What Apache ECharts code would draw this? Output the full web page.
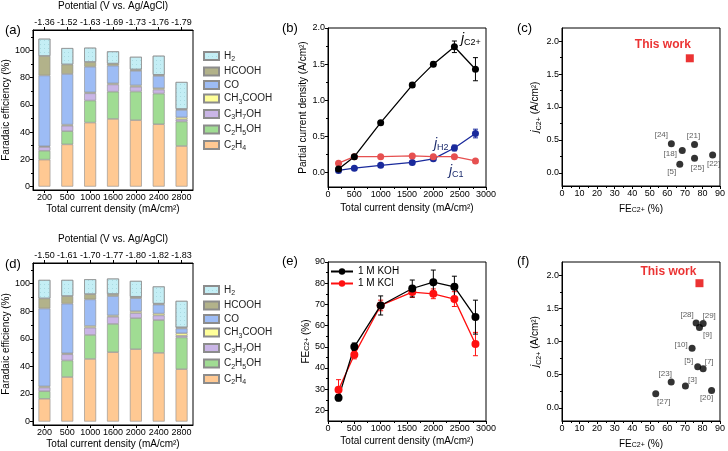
<!DOCTYPE html>
<html><head><meta charset="utf-8">
<script src="https://cdn.jsdelivr.net/npm/echarts@6/dist/echarts.min.js"></script>
<style>html,body{margin:0;padding:0;background:#fff}#c{width:728px;height:451px}</style>
</head><body><div id="c"></div>
<script>
// ---------- data ----------
const currents = ['200','500','1000','1600','2000','2400','2800'];
const currentVals = [200,500,1000,1600,2000,2400,2800];
const potentialA = ['-1.36','-1.52','-1.63','-1.69','-1.73','-1.76','-1.79'];
const potentialD = ['-1.50','-1.61','-1.70','-1.77','-1.80','-1.82','-1.83'];
const products = ['C2H4','C2H5OH','C3H7OH','CH3COOH','CO','HCOOH','H2']; // bottom -> top
const legendOrder = ['H2','HCOOH','CO','CH3COOH','C3H7OH','C2H5OH','C2H4'];

// (a) Faradaic efficiency (%) - 1 M KCl
const feA_C2H4    = [19.8, 31.0, 47.0, 49.7, 48.8, 45.8, 29.8];
const feA_C2H5OH  = [6.5, 9.7, 16.2, 20.0, 21.0, 22.5, 18.0];
const feA_C3H7OH  = [2.8, 4.0, 5.3, 5.3, 3.5, 3.0, 1.5];
const feA_CH3COOH = [0.5, 0.8, 0.7, 0.8, 1.0, 1.0, 1.5];
const feA_CO      = [52.0, 37.2, 18.8, 13.0, 10.7, 9.0, 5.5];
const feA_HCOOH   = [14.3, 7.0, 3.5, 1.5, 1.0, 0.8, 0.7];
const feA_H2      = [12.7, 12.0, 10.5, 9.0, 9.3, 14.0, 19.8];

// (d) Faradaic efficiency (%) - 1 M KOH
const feD_C2H4    = [16.5, 32.3, 45.4, 50.3, 52.5, 49.8, 38.0];
const feD_C2H5OH  = [5.5, 12.0, 17.4, 20.5, 22.5, 23.8, 23.0];
const feD_C3H7OH  = [2.7, 4.5, 5.3, 5.2, 3.7, 3.4, 1.2];
const feD_CH3COOH = [0.8, 0.7, 1.2, 1.0, 1.3, 1.3, 1.8];
const feD_CO      = [56.5, 36.0, 19.3, 14.0, 9.5, 6.5, 3.5];
const feD_HCOOH   = [7.3, 5.5, 3.8, 1.5, 1.0, 0.7, 0.8];
const feD_H2      = [13.4, 11.7, 10.8, 11.2, 11.5, 12.5, 19.2];

// (b) partial current density (A/cm2)
const jC2 = [0.05, 0.22, 0.69, 1.21, 1.50, 1.74, 1.43];
const jC2err = [0.01, 0.02, 0.02, 0.03, 0.03, 0.08, 0.16];
const jC1 = [0.13, 0.22, 0.22, 0.23, 0.22, 0.22, 0.16];
const jC1err = [0.02, 0.02, 0.02, 0.02, 0.02, 0.02, 0.01];
const jH2 = [0.03, 0.06, 0.10, 0.14, 0.19, 0.34, 0.54];
const jH2err = [0.01, 0.01, 0.01, 0.01, 0.02, 0.04, 0.06];

// (e) FE C2+ (%)
const feKOH = [26.0, 50.0, 69.5, 77.5, 80.5, 78.3, 64.0];
const feKOHerr = [1.5, 1.8, 4.5, 4.0, 5.7, 5.0, 8.0];
const feKCl = [29.7, 46.3, 69.5, 75.8, 75.0, 72.5, 51.3];
const feKClerr = [4.8, 2.0, 2.5, 2.5, 2.3, 3.5, 5.5];

// (c) comparison
const refC = ['[24]','[21]','[18]','[25]','[22]','[5]'];
const refC_fe = [62.3, 75.5, 68.5, 75.5, 85.8, 67.1];
const refC_j = [0.44, 0.43, 0.34, 0.22, 0.27, 0.13];
const thisC = [72.8, 1.74];

// (f) comparison
const refF = ['[28]','[29]','[9]','[10]','[5]','[7]','[23]','[3]','[27]','[20]'];
const refF_fe = [76.4, 80.4, 78.3, 74.1, 77.3, 80.4, 62.2, 70.3, 53.4, 85.2];
const refF_j = [1.28, 1.27, 1.21, 0.90, 0.62, 0.59, 0.39, 0.33, 0.21, 0.26];
const thisF = [78.3, 1.88];

// ---------- styles ----------
const F = 'Liberation Sans, Arial, Helvetica, sans-serif';
const colors = {C2H4:'#FFC993', C2H5OH:'#A0DC93', C3H7OH:'#C9B5E6', CH3COOH:'#FFFF99', CO:'#9DBCF5', HCOOH:'#B2B28A', H2:'#C4EEF5'};
const feA = {C2H4:feA_C2H4, C2H5OH:feA_C2H5OH, C3H7OH:feA_C3H7OH, CH3COOH:feA_CH3COOH, CO:feA_CO, HCOOH:feA_HCOOH, H2:feA_H2};
const feD = {C2H4:feD_C2H4, C2H5OH:feD_C2H5OH, C3H7OH:feD_C3H7OH, CH3COOH:feD_CH3COOH, CO:feD_CO, HCOOH:feD_HCOOH, H2:feD_H2};

const labelOffC = {'[24]':[-10,-9], '[21]':[-1,-9], '[18]':[-12,3], '[25]':[3,9], '[22]':[1,9], '[5]':[-8,8]};
const labelOffF = {'[28]':[-9,-8], '[29]':[6,-8], '[9]':[8,7], '[10]':[-11,-3], '[5]':[-9,-6], '[7]':[6,-7], '[23]':[-6,-8], '[3]':[7,-6], '[27]':[8,8], '[20]':[-5,7]};

function chem(s){
  return s.replace(/([^0-9+]+)|([0-9+]+)/g, (m,a,b)=> a ? '{n|'+a+'}' : '{s|'+b+'}');
}
const richBase = {
  n:{fontFamily:F, fontSize:10, lineHeight:14, color:'#000'},
  s:{fontFamily:F, fontSize:7, lineHeight:7, verticalAlign:'bottom', color:'#000'},
  j:{fontFamily:F, fontSize:10, lineHeight:14, fontStyle:'italic', color:'#000'}
};
const lbl = {fontFamily:F, fontSize:9, color:'#000', margin:3};
const nameSt = {fontFamily:F, fontSize:10, color:'#000'};
const axLine = {show:true, onZero:false, lineStyle:{color:'#000', width:1}};
const plain = v => String(v);

function yMajor(g, min, max, vals, name, gap, fmt){
  return {type:'value', gridIndex:g, min, max, position:'left',
    axisLine:axLine,
    axisTick:{show:true, length:3, customValues:vals, lineStyle:{color:'#000'}},
    axisLabel:Object.assign({show:true, customValues:vals, formatter:fmt||plain}, lbl),
    splitLine:{show:false}, name, nameLocation:'middle', nameGap:gap,
    nameTextStyle:Object.assign({rich:richBase}, nameSt)};
}
function yMinor(g, min, max, vals){
  return {type:'value', gridIndex:g, min, max, position:'left',
    axisLine:{show:false}, axisTick:{show:true, length:2, customValues:vals, lineStyle:{color:'#000'}},
    axisLabel:{show:false}, splitLine:{show:false}};
}
function xVal(g, min, max, interval, name, gap){
  return {type:'value', gridIndex:g, min, max, interval, position:'bottom',
    axisLine:axLine, axisTick:{show:true, length:3, lineStyle:{color:'#000'}},
    minorTick:{show:true, splitNumber:2, length:2, lineStyle:{color:'#000'}},
    axisLabel:Object.assign({showMinLabel:true, showMaxLabel:true, formatter:plain}, lbl),
    splitLine:{show:false}, minorSplitLine:{show:false},
    name, nameLocation:'middle', nameGap:gap, nameTextStyle:Object.assign({rich:richBase}, nameSt)};
}
function xCat(g, data, pos, name, gap){
  return {type:'category', gridIndex:g, data, position:pos, boundaryGap:true,
    axisLine:axLine, axisTick:{show:true, alignWithLabel:true, length:3, lineStyle:{color:'#000'}},
    axisLabel:Object.assign({interval:0}, lbl), splitLine:{show:false},
    name, nameLocation:'middle', nameGap:gap, nameTextStyle:nameSt};
}
const fmt1 = v => v.toFixed(1);
const barMaj = [0,20,40,60,80,100], barMin = [10,30,50,70,90,110];
const jMaj = [0,0.5,1.0,1.5,2.0], jMin = [0.25,0.75,1.25,1.75];

const grid = [
  {left:33, top:28, width:160, height:162},
  {left:328, top:28, width:158, height:159},
  {left:562, top:28, width:160, height:158},
  {left:33, top:263, width:160, height:162},
  {left:328, top:262, width:158, height:159},
  {left:562, top:262, width:160, height:159}
].map(g => Object.assign({show:true, borderColor:'#000', borderWidth:1, backgroundColor:'transparent', containLabel:false}, g));

const xAxis = [
  xCat(0, currents, 'bottom', 'Total current density (mA/cm²)', 14),
  xCat(0, potentialA, 'top', 'Potential (V vs. Ag/AgCl)', 19),
  xVal(1, 0, 3000, 500, 'Total current density (mA/cm²)', 16),
  xVal(2, 0, 90, 10, 'FE{s|C2+} (%)', 18),
  xCat(3, currents, 'bottom', 'Total current density (mA/cm²)', 14),
  xCat(3, potentialD, 'top', 'Potential (V vs. Ag/AgCl)', 19),
  xVal(4, 0, 3000, 500, 'Total current density (mA/cm²)', 15),
  xVal(5, 0, 90, 10, 'FE{s|C2+} (%)', 18)
];
const yAxis = [
  yMajor(0, -2.5, 115, barMaj, 'Faradaic efficiency (%)', 18),
  yMinor(0, -2.5, 115, barMin),
  yMajor(1, -0.2, 2.0, jMaj, 'Partial current density (A/cm²)', 19, fmt1),
  yMinor(1, -0.2, 2.0, jMin),
  yMajor(2, -0.2, 2.2, jMaj, '{j|j}{s|C2+} (A/cm²)', 17, fmt1),
  yMinor(2, -0.2, 2.2, jMin),
  yMajor(3, -2.5, 115, barMaj, 'Faradaic efficiency (%)', 18),
  yMinor(3, -2.5, 115, barMin),
  yMajor(4, 15, 90, [20,30,40,50,60,70,80,90], 'FE{s|C2+} (%)', 17),
  yMinor(4, 15, 90, [25,35,45,55,65,75,85]),
  yMajor(5, -0.2, 2.2, jMaj, '{j|j}{s|C2+} (A/cm²)', 17, fmt1),
  yMinor(5, -0.2, 2.2, jMin)
];

const series = [];
function addBars(fe, xi, yi, stack){
  products.forEach(p => {
    const item = {color:colors[p], borderColor:'#8c8c8c', borderWidth:0.6};
    if (p === 'H2') item.decal = {symbol:'rect', symbolSize:1, dashArrayX:[1,3], dashArrayY:[1,3], color:'rgba(120,180,190,0.35)'};
    series.push({type:'bar', name:p, xAxisIndex:xi, yAxisIndex:yi, stack, data:fe[p], barWidth:'52%', itemStyle:item, silent:true});
  });
}
addBars(feA, 0, 0, 'a');
addBars(feD, 4, 6, 'd');

function errRender(color){
  return function(params, api){
    const x = api.value(0), y = api.value(1), e = api.value(2);
    const t = api.coord([x, y + e]), b = api.coord([x, y - e]);
    const w = 2.5;
    const st = {stroke:color, lineWidth:1};
    return {type:'group', children:[
      {type:'line', shape:{x1:t[0], y1:t[1], x2:b[0], y2:b[1]}, style:st},
      {type:'line', shape:{x1:t[0]-w, y1:t[1], x2:t[0]+w, y2:t[1]}, style:st},
      {type:'line', shape:{x1:b[0]-w, y1:b[1], x2:b[0]+w, y2:b[1]}, style:st}
    ]};
  };
}
function addLine(name, vals, errs, color, xi, yi, size){
  series.push({type:'custom', name:name+'_err', xAxisIndex:xi, yAxisIndex:yi, silent:true, z:3,
    data: currentVals.map((x,i)=>[x, vals[i], errs[i]]), renderItem: errRender(color)});
  series.push({type:'line', name, xAxisIndex:xi, yAxisIndex:yi, silent:true, z:4,
    data: currentVals.map((x,i)=>[x, vals[i]]), symbol:'circle', symbolSize:size, showSymbol:true,
    lineStyle:{color, width:1.3}, itemStyle:{color}});
}
addLine('jH2', jH2, jH2err, '#1a2a9c', 2, 2, 7);
addLine('jC1', jC1, jC1err, '#e65050', 2, 2, 7);
addLine('jC2+', jC2, jC2err, '#000000', 2, 2, 7);
addLine('1 M KCl', feKCl, feKClerr, '#ff1010', 6, 8, 8);
addLine('1 M KOH', feKOH, feKOHerr, '#000000', 6, 8, 8);

function addScatter(names, fes, js, offs, thisW, xi, yi, thisOff){
  series.push({type:'scatter', xAxisIndex:xi, yAxisIndex:yi, silent:true, symbolSize:7,
    itemStyle:{color:'#000'},
    label:{show:true, position:'inside', formatter:'{b}', fontFamily:F, fontSize:8, color:'#333'},
    data: names.map((n,i)=>({name:n, value:[fes[i], js[i]], label:{offset:offs[n]}}))});
  series.push({type:'scatter', xAxisIndex:xi, yAxisIndex:yi, silent:true, symbol:'rect', symbolSize:8,
    itemStyle:{color:'#e60000'},
    label:{show:true, position:'inside', formatter:'This work', fontFamily:F, fontSize:12, fontWeight:'bold', color:'#e60000', offset:thisOff},
    data:[{name:'This work', value:thisW}]});
}
addScatter(refC, refC_fe, refC_j, labelOffC, thisC, 3, 4, [-27,-14]);
addScatter(refF, refF_fe, refF_j, labelOffF, thisF, 7, 10, [-31,-12]);

const legendRich = {
  n:{fontFamily:F, fontSize:10, lineHeight:14, color:'#222'},
  s:{fontFamily:F, fontSize:7, lineHeight:7, verticalAlign:'bottom', color:'#222'}
};
function prodLegend(top){
  return {data:legendOrder, orient:'vertical', left:203, top, padding:0, itemWidth:15, itemHeight:8, itemGap:3.5,
    icon:'rect', selectedMode:false, formatter:n=>chem(n), textStyle:{rich:legendRich, fontFamily:F, fontSize:10}};
}
const legend = [
  prodLegend(51),
  prodLegend(285),
  {data:['1 M KOH','1 M KCl'], orient:'vertical', left:330, top:266, padding:0, itemWidth:22, itemHeight:8, itemGap:1,
   selectedMode:false, textStyle:{fontFamily:F, fontSize:10, color:'#000', lineHeight:11}}
];

const sub = {fontFamily:F, fontSize:9, lineHeight:9, verticalAlign:'bottom'};
const jst = {fontFamily:F, fontSize:14, lineHeight:17, fontStyle:'italic'};
function ann(x, y, subText, color){
  return {type:'text', left:x, top:y, silent:true, style:{text:'{j|j}{s|'+subText+'}', fill:color,
    rich:{j:Object.assign({fill:color}, jst), s:Object.assign({fill:color}, sub)}}};
}
function plabel(t, x, y){
  return {type:'text', left:x, top:y, silent:true, style:{text:t, fontFamily:F, fontSize:13, fill:'#000'}};
}
const graphic = [
  ann(461, 32, 'C2+', '#000'),
  ann(434, 137, 'H2', '#1a2a6c'),
  ann(449, 164, 'C1', '#1a2a6c'),
  plabel('(a)', 5, 24), plabel('(b)', 282, 22), plabel('(c)', 517, 22),
  plabel('(d)', 5, 258), plabel('(e)', 282, 255), plabel('(f)', 517, 255)
];

const chart = echarts.init(document.getElementById('c'), null, {renderer:'canvas'});
chart.setOption({animation:false, backgroundColor:'#fff', textStyle:{fontFamily:F}, grid, xAxis, yAxis, series, legend, graphic});
</script></body></html>
